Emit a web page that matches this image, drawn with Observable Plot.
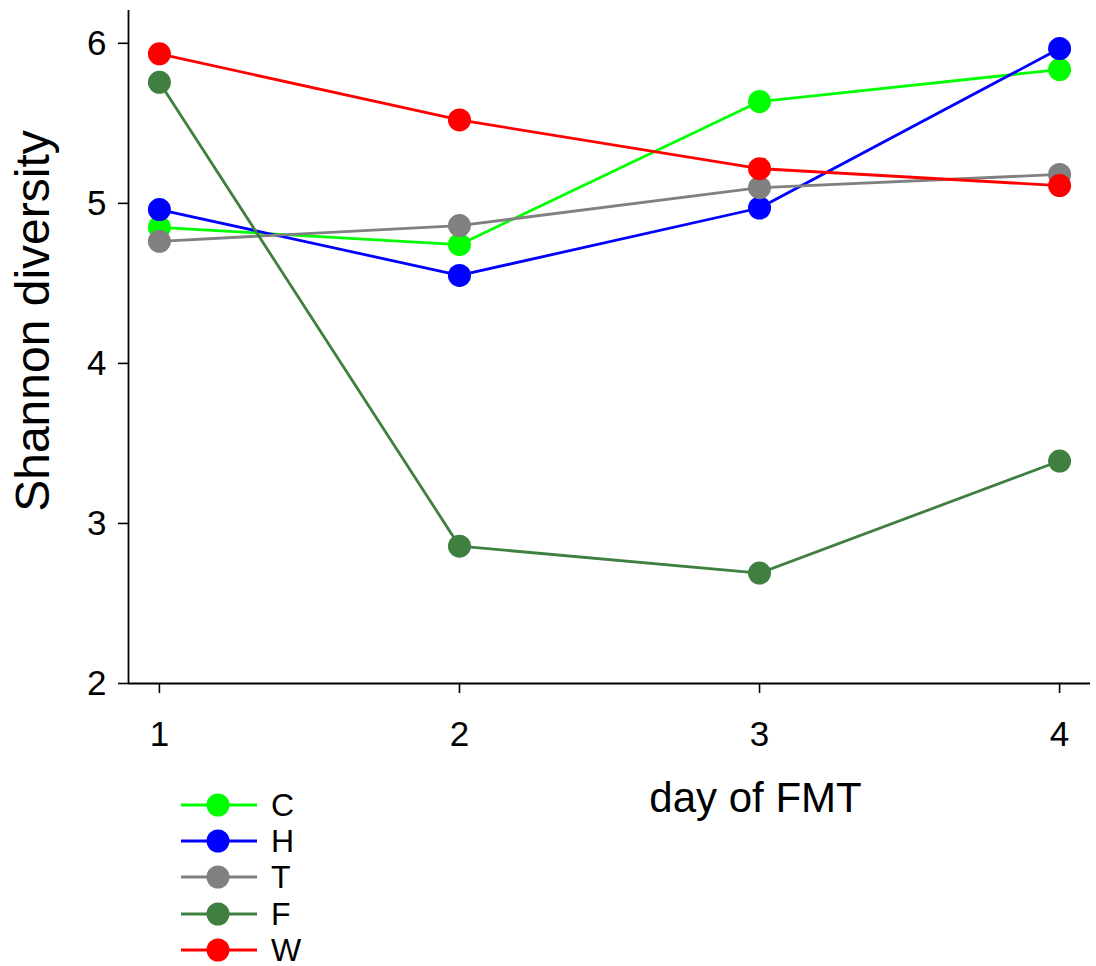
<!DOCTYPE html>
<html>
<head>
<meta charset="utf-8">
<script src="https://cdn.jsdelivr.net/npm/d3@7"></script>
<script src="https://cdn.jsdelivr.net/npm/@observablehq/plot@0.6"></script>
<style>
  html, body { margin: 0; padding: 0; background: #fff; }
  #wrap { position: relative; width: 1096px; height: 966px; font-family: "Liberation Sans", Arial, sans-serif; }
  #legend { position: absolute; left: 181px; top: 787px; }
  .row { display: flex; align-items: center; height: 36.2px; }
  .row span { font-size: 32px; line-height: 0.75; margin-left: 14px; color: #000; }
</style>
</head>
<body>
<div id="wrap"><div id="legend"></div></div>
<script>
const days = [1, 2, 3, 4];
const seriesNames = ["C", "H", "T", "F", "W"];
const seriesColors = ["#00ff00", "#0000ff", "#808080", "#3f7f3f", "#ff0000"];
const valuesC = [4.85, 4.742, 5.636, 5.836];
const valuesH = [4.961, 4.55, 4.971, 5.967];
const valuesT = [4.763, 4.861, 5.098, 5.181];
const valuesF = [5.756, 2.858, 2.69, 3.39];
const valuesW = [5.934, 5.521, 5.217, 5.111];
const yTicks = [2, 3, 4, 5, 6];
const xTicks = [1, 2, 3, 4];
const xLabel = "day of FMT";
const yLabel = "Shannon diversity";

const allValues = [valuesC, valuesH, valuesT, valuesF, valuesW];
const data = [];
seriesNames.forEach((s, i) => days.forEach((d, j) => data.push({series: s, day: d, value: allValues[i][j]})));

const xDomain = [0.897, 4.103];
const yDomain = [2, 6.205];

const marks = [
  Plot.ruleX([xDomain[0]], {stroke: "#000", strokeWidth: 1.8}),
  Plot.ruleY([yDomain[0]], {stroke: "#000", strokeWidth: 1.8}),
  Plot.axisY({ticks: yTicks, tickFormat: "d", tickSize: 10, tickPadding: 12, fontSize: 35, label: null, strokeWidth: 1.6}),
  Plot.axisX({ticks: xTicks, tickFormat: "d", tickSize: 10, tickPadding: 28, fontSize: 35, label: null, strokeWidth: 1.6}),
  Plot.text([xLabel], {frameAnchor: "bottom", dx: 146, dy: 128, fontSize: 42, fill: "#000"}),
  Plot.text([yLabel], {frameAnchor: "left", textAnchor: "middle", rotate: -90, dx: -95, dy: -26, fontSize: 48, fill: "#000"})
];
seriesNames.forEach(s => {
  const sub = data.filter(d => d.series === s);
  marks.push(Plot.line(sub, {x: "day", y: "value", stroke: "series", strokeWidth: 2.8}));
  marks.push(Plot.dot(sub, {x: "day", y: "value", fill: "series", r: 11.5, stroke: "none"}));
});

const chart = Plot.plot({
  width: 1096,
  height: 966,
  marginLeft: 128,
  marginRight: 6,
  marginTop: 10,
  marginBottom: 283,
  style: {fontFamily: "'Liberation Sans', Arial, sans-serif", background: "#fff", color: "#000"},
  x: {domain: xDomain},
  y: {domain: yDomain},
  color: {domain: seriesNames, range: seriesColors},
  marks
});
const wrap = document.getElementById("wrap");
wrap.insertBefore(chart, wrap.firstChild);

const legend = document.getElementById("legend");
seriesNames.forEach((s, i) => {
  const row = document.createElement("div");
  row.className = "row";
  row.innerHTML = `<svg width="76" height="24"><line x1="0" x2="76" y1="12" y2="12" stroke="${seriesColors[i]}" stroke-width="2.8"/><circle cx="37" cy="12" r="11.5" fill="${seriesColors[i]}"/></svg><span>${s}</span>`;
  legend.appendChild(row);
});
</script>
</body>
</html>
